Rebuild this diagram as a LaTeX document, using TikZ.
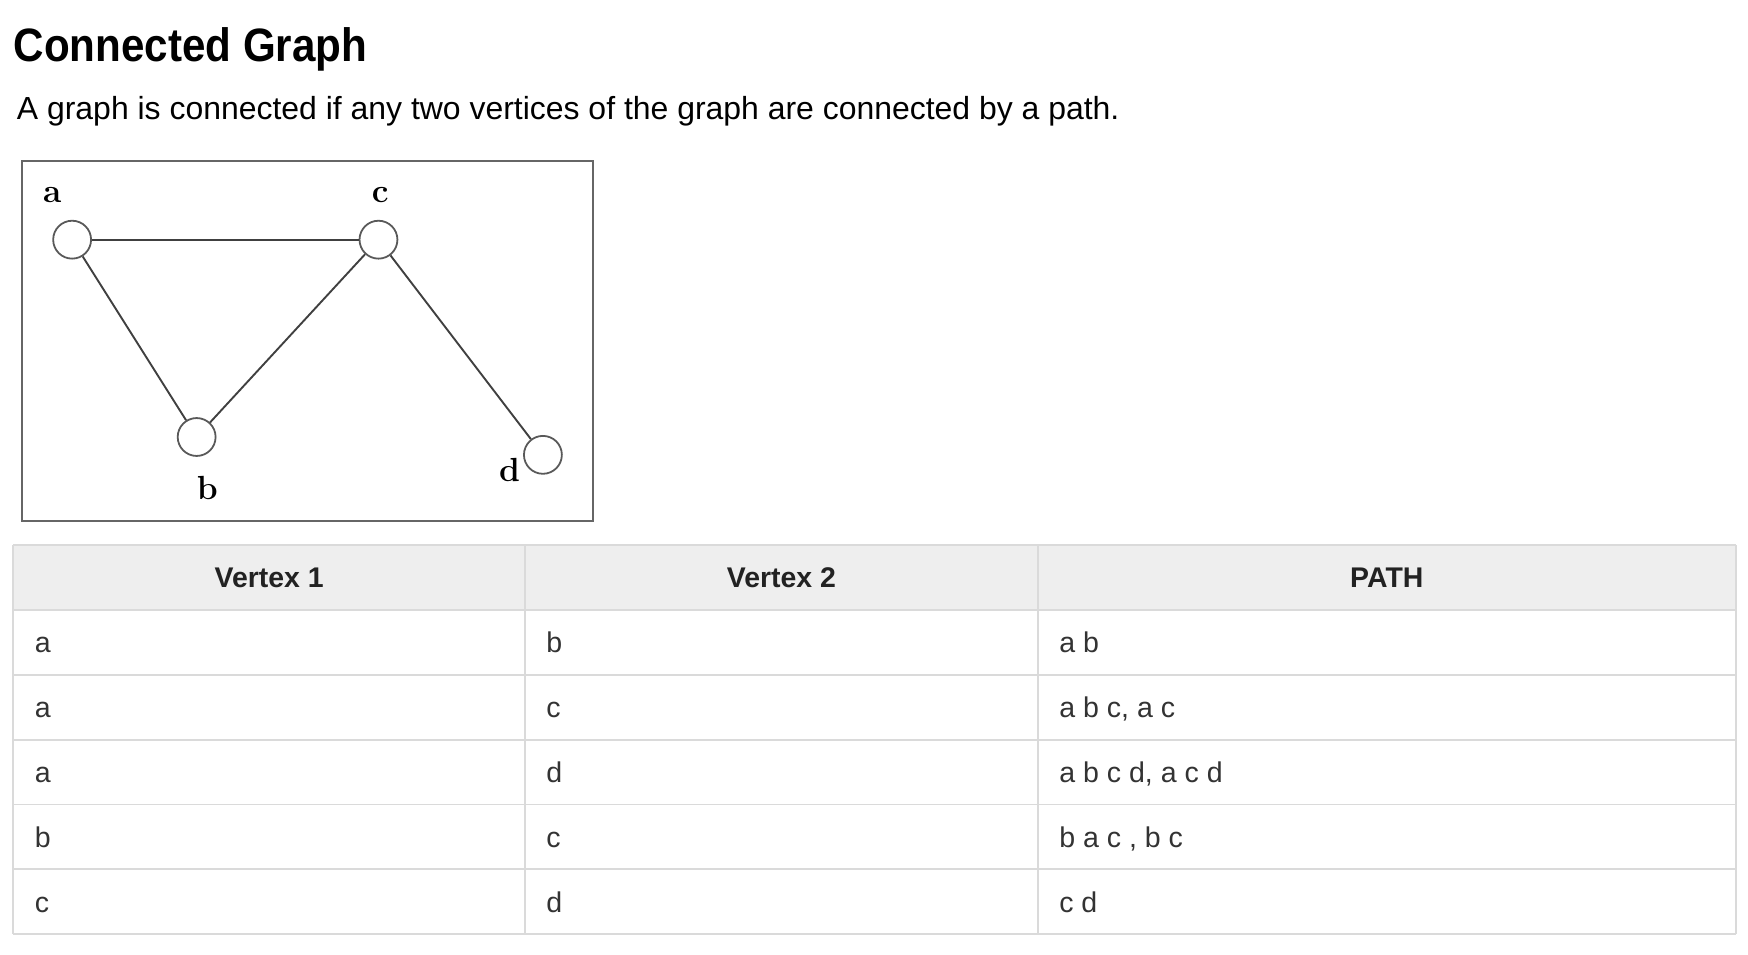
\documentclass[tikz,border=0pt]{standalone}
\usepackage{fontspec}
\newfontfamily\sansfont{Liberation Sans}
\newfontfamily\titlefont[FakeStretch=0.9]{Liberation Sans}
\usepackage[dvipsnames]{xcolor}
\usepackage{tikz}
\usetikzlibrary{positioning}

\definecolor{headfill}{HTML}{EEEEEE}
\definecolor{rulegray}{HTML}{DADADA}
\definecolor{celltext}{HTML}{333333}
\definecolor{headtext}{HTML}{222222}

\tikzset{
    vertex/.style={circle, draw=black!65, line width=1.6pt, minimum size=34pt, inner sep=0pt, fill=white},
    vlabel/.style={inner sep=0pt, anchor=base, font=\rmfamily\bfseries\fontsize{30}{30}\selectfont},
    edge/.style={line width=1.7pt, black!75},
    rule/.style={line width=1.6pt, rulegray},
    headcell/.style={inner sep=0pt, anchor=base, text=headtext, font=\sansfont\bfseries\fontsize{25.5}{25.5}\selectfont},
    bodycell/.style={inner sep=0pt, anchor=base west, text=celltext, font=\sansfont\fontsize{25.6}{25.6}\selectfont}
}

\begin{document}
\begin{tikzpicture}[x=1pt, y=-1pt]
    \useasboundingbox (0,0) rectangle (1568,856);

    \node[inner sep=0pt, anchor=base west, font=\titlefont\bfseries\fontsize{42}{42}\selectfont] (title) at (12,55) {Connected Graph};
    \node[inner sep=0pt, anchor=base west, font=\sansfont\fontsize{28.65}{28.65}\selectfont] (intro) at (15,107.6) {A graph is connected if any two vertices of the graph are connected by a path.};

    % the graph in its frame
    \draw[line width=1.8pt, black!60] (20,144) rectangle (532,467);

    \node[vertex] (a) at (64.7,215) {};
    \node[vertex] (c) at (339.5,215) {};
    \node[vertex] (b) at (176.4,392) {};
    \node[vertex] (d) at (487,408) {};

    \draw[edge] (a) -- (c);
    \draw[edge] (a) -- (b);
    \draw[edge] (c) -- (b);
    \draw[edge] (c) -- (d);

    \node[vlabel] (la) at (47,182) {a};
    \node[vlabel] (lc) at (341,182) {c};
    \node[vlabel] (lb) at (186,448) {b};
    \node[vlabel] (ld) at (457,432) {d};

    % table
    \fill[headfill] (12,489) rectangle (1557,547.2);
    \foreach \k in {0,...,6}
        \draw[rule] (12,489+58.17*\k) -- (1557,489+58.17*\k);
    \foreach \x in {12,471,931,1557}
        \draw[rule] (\x,489) -- (\x,838);

    \node[headcell] (h1) at (241.5,527) {Vertex 1};
    \node[headcell] (h2) at (701,527) {Vertex 2};
    \node[headcell] (h3) at (1244,527) {PATH};

    \foreach \va/\vb/\pth [count=\i] in {a/b/{a b}, a/c/{a b c, a c}, a/d/{a b c d, a c d}, b/c/{b a c , b c}, c/d/{c d}} {
        \node[bodycell] (v1-\i) at (31,585.5+58.17*\i-58.17) {\va};
        \node[bodycell] (v2-\i) at (490,585.5+58.17*\i-58.17) {\vb};
        \node[bodycell] (path-\i) at (950,585.5+58.17*\i-58.17) {\pth};
    }
\end{tikzpicture}
\end{document}
